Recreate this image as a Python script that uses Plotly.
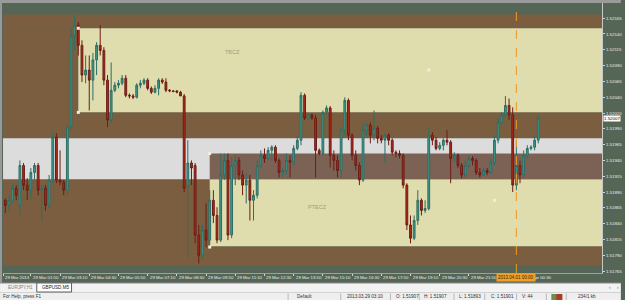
import pandas as pd
import plotly.graph_objects as go

# ---------------- data (GBPUSD, 10-minute bars) ----------------
bar_times = list(pd.date_range("2013-03-29 00:30", "2013-03-29 23:50", freq="10min")) + \
            list(pd.date_range("2013-04-01 00:00", "2013-04-01 01:00", freq="10min"))

opens = [
    1.51924, 1.51877, 1.51869, 1.51877, 1.51896, 1.51869, 1.51932, 1.51901, 1.51893, 1.51921,
    1.51932, 1.51893, 1.51896, 1.51869, 1.51909, 1.51977, 1.51909, 1.51906, 1.51893, 1.51993,
    1.52138, 1.52154, 1.52122, 1.52075, 1.52083, 1.52067, 1.52099, 1.52122, 1.52114, 1.52067,
    1.52004, 1.52051, 1.52059, 1.52062, 1.52070, 1.52043, 1.52042, 1.52040, 1.52059, 1.52062,
    1.52067, 1.52054, 1.52048, 1.52054, 1.52067, 1.52064, 1.52051, 1.52050, 1.52050, 1.52048,
    1.52042, 1.51901, 1.51936, 1.51932, 1.51822, 1.51790, 1.51830, 1.51814, 1.51877, 1.51853,
    1.51814, 1.51917, 1.51940, 1.51822, 1.51932, 1.51940, 1.51917, 1.51901, 1.51909, 1.51877,
    1.51885, 1.51932, 1.51948, 1.51943, 1.51956, 1.51961, 1.51940, 1.51921, 1.51924, 1.51940,
    1.51937, 1.51959, 1.51972, 1.52043, 1.52007, 1.52012, 1.52007, 1.51956, 1.51951, 1.52016,
    1.52023, 1.51948, 1.51940, 1.51924, 1.51988, 1.52035, 1.51980, 1.51948, 1.51932, 1.51909,
    1.51988, 1.51996, 1.51980, 1.51991, 1.51975, 1.51972, 1.51980, 1.51972, 1.51953, 1.51951,
    1.51948, 1.51901, 1.51838, 1.51817, 1.51845, 1.51877, 1.51861, 1.51864, 1.51980, 1.51972,
    1.51959, 1.51964, 1.51972, 1.51969, 1.51943, 1.51948, 1.51932, 1.51917, 1.51932, 1.51943,
    1.51940, 1.51921, 1.51917, 1.51924, 1.51921, 1.51937, 1.51972, 1.52000, 1.52012, 1.52027,
    1.52012, 1.51901, 1.51932, 1.51917, 1.51948, 1.51959, 1.51961, 1.51972,
]
highs = [
    1.51928, 1.51880, 1.51885, 1.51904, 1.51901, 1.51940, 1.51936, 1.51912, 1.51928, 1.51936,
    1.51936, 1.51901, 1.51901, 1.51917, 1.51985, 1.51983, 1.51956, 1.51909, 1.51996, 1.52149,
    1.52170, 1.52159, 1.52130, 1.52106, 1.52106, 1.52110, 1.52127, 1.52154, 1.52119, 1.52075,
    1.52095, 1.52064, 1.52067, 1.52075, 1.52075, 1.52046, 1.52045, 1.52062, 1.52067, 1.52070,
    1.52070, 1.52057, 1.52059, 1.52070, 1.52070, 1.52070, 1.52053, 1.52051, 1.52051, 1.52050,
    1.52045, 1.51972, 1.51940, 1.51936, 1.51838, 1.51838, 1.51872, 1.51893, 1.51893, 1.51866,
    1.51951, 1.51951, 1.51951, 1.51945, 1.51948, 1.51945, 1.51924, 1.51920, 1.51917, 1.51893,
    1.51940, 1.51956, 1.51959, 1.51961, 1.51964, 1.51964, 1.51943, 1.51928, 1.51951, 1.51948,
    1.51964, 1.51980, 1.52048, 1.52046, 1.52015, 1.52015, 1.52012, 1.51959, 1.52019, 1.52027,
    1.52026, 1.51956, 1.51948, 1.51993, 1.52040, 1.52038, 1.51983, 1.51956, 1.51937, 1.51999,
    1.52000, 1.52000, 1.52019, 1.51994, 1.51980, 1.51983, 1.51983, 1.51975, 1.51956, 1.51956,
    1.51951, 1.51904, 1.51853, 1.51853, 1.51893, 1.51880, 1.51877, 1.51993, 1.51985, 1.51977,
    1.51969, 1.51975, 1.51988, 1.51972, 1.51953, 1.51951, 1.51936, 1.51940, 1.51948, 1.51947,
    1.51943, 1.51928, 1.51929, 1.51928, 1.51943, 1.51980, 1.52007, 1.52016, 1.52042, 1.52038,
    1.52024, 1.51972, 1.51940, 1.51956, 1.51964, 1.51964, 1.51978, 1.52012,
]
lows = [
    1.51872, 1.51857, 1.51861, 1.51872, 1.51877, 1.51853, 1.51893, 1.51877, 1.51880, 1.51909,
    1.51885, 1.51845, 1.51861, 1.51864, 1.51904, 1.51904, 1.51901, 1.51885, 1.51885, 1.51988,
    1.52114, 1.52106, 1.52064, 1.52062, 1.52019, 1.52035, 1.52075, 1.52106, 1.52059, 1.51993,
    1.51999, 1.52048, 1.52054, 1.52059, 1.52040, 1.52038, 1.52037, 1.52038, 1.52054, 1.52059,
    1.52051, 1.52045, 1.52046, 1.52043, 1.52061, 1.52048, 1.52048, 1.52048, 1.52046, 1.52042,
    1.51890, 1.51787, 1.51901, 1.51809, 1.51777, 1.51785, 1.51803, 1.51806, 1.51841, 1.51809,
    1.51811, 1.51909, 1.51814, 1.51817, 1.51901, 1.51909, 1.51885, 1.51872, 1.51845, 1.51845,
    1.51880, 1.51928, 1.51936, 1.51940, 1.51940, 1.51936, 1.51913, 1.51913, 1.51917, 1.51913,
    1.51932, 1.51956, 1.51964, 1.52004, 1.52004, 1.52004, 1.51913, 1.51948, 1.51948, 1.52012,
    1.51929, 1.51924, 1.51913, 1.51912, 1.51980, 1.51972, 1.51940, 1.51924, 1.51901, 1.51906,
    1.51980, 1.51967, 1.51972, 1.51967, 1.51967, 1.51936, 1.51964, 1.51948, 1.51945, 1.51943,
    1.51896, 1.51830, 1.51809, 1.51814, 1.51838, 1.51853, 1.51857, 1.51861, 1.51964, 1.51956,
    1.51956, 1.51956, 1.51964, 1.51904, 1.51937, 1.51928, 1.51912, 1.51913, 1.51928, 1.51932,
    1.51917, 1.51913, 1.51915, 1.51917, 1.51918, 1.51932, 1.51967, 1.51996, 1.52008, 1.52004,
    1.51890, 1.51893, 1.51904, 1.51912, 1.51943, 1.51956, 1.51956, 1.51967,
]
closes = [
    1.51877, 1.51869, 1.51877, 1.51896, 1.51885, 1.51932, 1.51901, 1.51893, 1.51921, 1.51932,
    1.51893, 1.51896, 1.51869, 1.51909, 1.51977, 1.51909, 1.51906, 1.51893, 1.51993, 1.52138,
    1.52154, 1.52122, 1.52075, 1.52083, 1.52067, 1.52099, 1.52122, 1.52114, 1.52067, 1.52004,
    1.52051, 1.52059, 1.52062, 1.52070, 1.52043, 1.52042, 1.52040, 1.52059, 1.52062, 1.52067,
    1.52054, 1.52048, 1.52054, 1.52067, 1.52064, 1.52051, 1.52050, 1.52049, 1.52048, 1.52042,
    1.51896, 1.51936, 1.51928, 1.51822, 1.51790, 1.51830, 1.51814, 1.51877, 1.51853, 1.51814,
    1.51917, 1.51940, 1.51822, 1.51932, 1.51940, 1.51917, 1.51901, 1.51909, 1.51877, 1.51885,
    1.51932, 1.51948, 1.51943, 1.51956, 1.51961, 1.51940, 1.51921, 1.51924, 1.51940, 1.51937,
    1.51959, 1.51972, 1.52043, 1.52007, 1.52012, 1.52007, 1.51956, 1.51951, 1.52016, 1.52023,
    1.51948, 1.51940, 1.51924, 1.51988, 1.52035, 1.51980, 1.51948, 1.51932, 1.51909, 1.51988,
    1.51996, 1.51980, 1.51991, 1.51975, 1.51972, 1.51980, 1.51972, 1.51953, 1.51951, 1.51948,
    1.51901, 1.51838, 1.51817, 1.51845, 1.51877, 1.51861, 1.51864, 1.51980, 1.51972, 1.51959,
    1.51964, 1.51972, 1.51969, 1.51943, 1.51948, 1.51932, 1.51917, 1.51932, 1.51943, 1.51940,
    1.51921, 1.51917, 1.51924, 1.51921, 1.51937, 1.51972, 1.52000, 1.52012, 1.52027, 1.52012,
    1.51901, 1.51932, 1.51917, 1.51948, 1.51959, 1.51961, 1.51972, 1.52007,
]

# zone boundaries (prices) and zone start times
top_band = [1.52149, 1.52171]
tbcz = [1.52016, 1.52149]
tbcz_base = [1.51975, 1.52016]
gray_band = [1.51910, 1.51975]
ptecz_top = [1.51910, 1.51951]
ptecz = [1.51804, 1.51910]
ptecz_base = [1.51774, 1.51804]
tbcz_start = "2013-03-29 04:00"
ptecz_start = "2013-03-29 10:00"
anchor_times = ["2013-03-29 04:00", "2013-03-29 04:00", "2013-03-29 10:00", "2013-03-29 10:00",
                "2013-03-29 20:00", "2013-03-29 23:00"]
anchor_prices = [1.52149, 1.52016, 1.51951, 1.51803, 1.52083, 1.51877]

price_ticks = [1.52165, 1.52140, 1.52115, 1.52090, 1.52065, 1.52040, 1.52015, 1.51990, 1.51965,
               1.51940, 1.51915, 1.51890, 1.51865, 1.51840, 1.51815, 1.51790, 1.51765]
time_labels = ["29 Mar 2013", "29 Mar 01:50", "29 Mar 03:10", "29 Mar 04:30", "29 Mar 05:50",
               "29 Mar 07:10", "29 Mar 08:30", "29 Mar 09:50", "29 Mar 11:10", "29 Mar 12:30",
               "29 Mar 13:50", "29 Mar 15:10", "29 Mar 16:30", "29 Mar 17:50", "29 Mar 19:10",
               "29 Mar 20:30", "29 Mar 21:50", "1 Apr 00:30"]
time_label_pos = ["2013-03-29 00:34", "2013-03-29 01:50", "2013-03-29 03:10", "2013-03-29 04:30",
                  "2013-03-29 05:50", "2013-03-29 07:10", "2013-03-29 08:30", "2013-03-29 09:50",
                  "2013-03-29 11:10", "2013-03-29 12:30", "2013-03-29 13:50", "2013-03-29 15:10",
                  "2013-03-29 16:30", "2013-03-29 17:50", "2013-03-29 19:10", "2013-03-29 20:30",
                  "2013-03-29 21:50", "2013-04-01 00:30"]
current_price = "1.52007"

# ---------------- styling ----------------
BG = "#566656"
BROWN = "#7b5e3f"
YELLOW = "#dfdcae"
GRAY = "#dcdcdc"
PBROWN = "#7b6255"
W, H = 625, 300
ML, MR, MT, MB = 3, 19, 3, 27
PW, PH = W - ML - MR, H - MT - MB
XL, XR = "2013-03-29 00:00", "2013-04-01 06:00"
FONT = "Liberation Sans"


def px(x):
    return (x - ML) / PW


def py(y):
    return (H - MB - y) / PH


fig = go.Figure()
fig.add_trace(go.Candlestick(
    x=bar_times, open=opens, high=highs, low=lows, close=closes,
    increasing=dict(fillcolor="#3f9c8c", line=dict(color="#2d6e64", width=1)),
    decreasing=dict(fillcolor="#b02a1c", line=dict(color="#6e1c14", width=1)),
    whiskerwidth=0, showlegend=False, hoverinfo="skip",
))
fig.add_trace(go.Scatter(
    x=anchor_times, y=anchor_prices, mode="markers",
    marker=dict(symbol="square", size=3, color="#f6eedc", line=dict(width=0)),
    showlegend=False, hoverinfo="skip",
))

shapes = []


def zone(x0, x1, yy, color):
    shapes.append(dict(type="rect", xref="x", yref="y", x0=x0, x1=x1, y0=yy[0], y1=yy[1],
                       fillcolor=color, line=dict(width=0), layer="below"))


zone(XL, XR, top_band, BROWN)
zone(XL, tbcz_start, [tbcz_base[0], tbcz[1]], BROWN)
zone(tbcz_start, XR, tbcz, YELLOW)
zone(tbcz_start, XR, tbcz_base, BROWN)
zone(XL, XR, gray_band, GRAY)
zone(ptecz_start, XR, ptecz_top, PBROWN)
zone(XL, ptecz_start, [ptecz_base[0], ptecz[1]], BROWN)
zone(ptecz_start, XR, ptecz, YELLOW)
zone(ptecz_start, XR, ptecz_base, BROWN)

# weekend separator / selected time
shapes.append(dict(type="line", xref="x", yref="paper", x0="2013-04-01 00:00", x1="2013-04-01 00:00",
                   y0=0, y1=1, line=dict(color="#ee9a26", width=1, dash="dash")))


def prect(x0, x1, y0, y1, fill, line=None):
    shapes.append(dict(type="rect", xref="paper", yref="paper", x0=px(x0), x1=px(x1),
                       y0=py(y1), y1=py(y0), fillcolor=fill,
                       line=dict(width=0) if line is None else dict(color=line, width=1),
                       layer="above"))


# window frame, tab bar, status bar
prect(0, W, 0, 3, "#9a9a9a")
prect(0, 2, 0, 283, "#9a9a9a")
prect(0, W, 283, 292, "#f2f2f2")
prect(0, W, 292, 300, "#efefef")
shapes.append(dict(type="line", xref="paper", yref="paper", x0=px(0), x1=px(W), y0=py(283), y1=py(283),
                   line=dict(color="#8a8a8a", width=1)))
shapes.append(dict(type="line", xref="paper", yref="paper", x0=px(0), x1=px(W), y0=py(292.5), y1=py(292.5),
                   line=dict(color="#d2d2d2", width=1)))
prect(37, 72, 283, 292, "#ffffff", line="#606060")
for sx in [290, 343, 393, 422, 457, 488, 520, 550, 570]:
    shapes.append(dict(type="line", xref="paper", yref="paper", x0=px(sx), x1=px(sx), y0=py(293.5), y1=py(300),
                       line=dict(color="#b8b8b8", width=1)))
prect(555, 566, 294, 300, "#6b8f4a")
prect(560, 566, 294, 300, "#b03a2a")

fig.update_layout(shapes=shapes)

ann = []
for lab, pos in zip(time_labels, time_label_pos):
    ann.append(dict(x=pos, y=py(277.5), xref="x", yref="paper", text=lab, showarrow=False,
                    xanchor="left", yanchor="middle", xshift=0,
                    font=dict(family=FONT, size=4.3, color="#e8ece8")))
ann.append(dict(x="2013-04-01 00:00", y=py(277), xref="x", yref="paper", text="2013.04.01 00:00",
                showarrow=False, xanchor="center", yanchor="middle", bgcolor="#f0a02a", borderpad=1,
                font=dict(family=FONT, size=4.5, color="#3a2600")))
ann.append(dict(x=px(607), y=float(current_price), xref="paper", yref="y", text=current_price,
                showarrow=False, xanchor="left", yanchor="middle", bgcolor="#ffffff", borderpad=0,
                font=dict(family=FONT, size=4.4, color="#000000")))
ann.append(dict(x="2013-03-29 11:02", y=1.52111, xref="x", yref="y", text="TBCZ", showarrow=False,
                font=dict(family=FONT, size=5.5, color="#a09c84")))
ann.append(dict(x="2013-03-29 14:56", y=1.51866, xref="x", yref="y", text="PTECZ", showarrow=False,
                font=dict(family=FONT, size=5.5, color="#a09c84")))

status = [("EURJPY,H1", 6, 287.5, "#808080"), ("GBPUSD,M5", 40, 287.5, "#202020"),
          ("For Help, press F1", 1, 296.5, "#303030"), ("Default", 297, 296.5, "#303030"),
          ("2013.03.29 03:10", 347, 296.5, "#303030"), ("O: 1.51907", 397, 296.5, "#303030"),
          ("H: 1.51907", 425, 296.5, "#303030"), ("L: 1.51893", 460, 296.5, "#303030"),
          ("C: 1.51901", 492, 296.5, "#303030"), ("V: 44", 523, 296.5, "#303030"),
          ("234/1 kb", 580, 296.5, "#303030"), ("‹", 611, 287.5, "#606060"), ("›", 619, 287.5, "#606060")]
for txt, sx, sy, col in status:
    ann.append(dict(x=px(sx), y=py(sy), xref="paper", yref="paper", text=txt, showarrow=False,
                    xanchor="left", yanchor="middle",
                    font=dict(family=FONT, size=4.6, color=col)))
fig.update_layout(annotations=ann)

fig.update_layout(
    width=W, height=H, margin=dict(l=ML, r=MR, t=MT, b=MB),
    paper_bgcolor=BG, plot_bgcolor=BG, showlegend=False,
    xaxis=dict(type="date", range=["2013-03-29 00:33:42", "2013-04-01 03:54:36"],
               rangebreaks=[dict(bounds=["2013-03-30", "2013-04-01"])],
               rangeslider=dict(visible=False), showgrid=False, zeroline=False,
               showticklabels=False, ticks="outside", ticklen=2, tickcolor="#cfd5cf",
               tickvals=time_label_pos, showline=True, linecolor="#9aa39a", linewidth=1),
    yaxis=dict(side="right", range=[1.51762, 1.52189], tickvals=price_ticks, tickformat=".5f",
               showgrid=False, zeroline=False, ticks="outside", ticklen=2, tickcolor="#cfd5cf",
               tickfont=dict(family=FONT, size=4.4, color="#e8ece8"),
               showline=True, linecolor="#c8c8c8", linewidth=1),
)

fig.write_html("out.html")
